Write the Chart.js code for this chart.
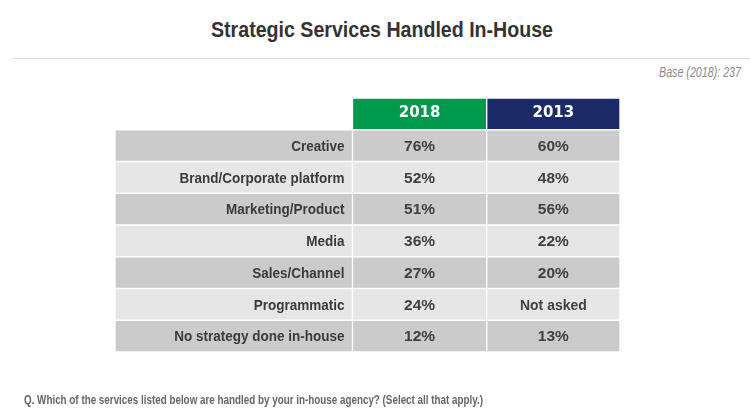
<!DOCTYPE html>
<html>
<head>
<meta charset="utf-8">
<script src="https://cdn.jsdelivr.net/npm/chart.js@4.4.1/dist/chart.umd.min.js"></script>
<style>
  html, body { margin: 0; padding: 0; background: #fff; }
  #wrap { position: relative; width: 750px; height: 411px; overflow: hidden; }
  .fit { position: absolute; white-space: nowrap; font-family: "Liberation Sans", Arial, sans-serif; }
  #title { top: 17px; font-size: 22px; font-weight: bold; color: #333; }
  #rule { position: absolute; left: 12px; top: 58px; width: 738px; height: 1px; background: #dcdcdc; }
  #base { top: 64px; font-size: 14.5px; font-style: italic; color: #8a8a8a; }
  #note { top: 392px; font-size: 13px; font-weight: bold; color: #666; }
  canvas { position: absolute; left: 0; top: 0; }
</style>
</head>
<body>
<div id="wrap">
  <div id="title" class="fit">Strategic Services Handled In-House</div>
  <div id="rule"></div>
  <div id="base" class="fit">Base (2018): 237</div>
  <canvas id="tbl" width="750" height="411"></canvas>
  <div id="note" class="fit">Q. Which of the services listed below are handled by your in-house agency? (Select all that apply.)</div>
</div>
<script>
// ── Data ─────────────────────────────────────────────────────
const services = ['Creative', 'Brand/Corporate platform', 'Marketing/Product', 'Media',
                  'Sales/Channel', 'Programmatic', 'No strategy done in-house'];
const years    = ['2018', '2013'];
const pct2018  = [76, 52, 51, 36, 27, 24, 12];
const pct2013  = [60, 48, 56, 22, 20, null, 13];
const notAsked = 'Not asked';

// ── Condensed look for the surrounding texts ─────────────────
// squeeze each line horizontally to the width it has in the original
function fitText(id, left, width, align) {
  const el = document.getElementById(id);
  const w = el.getBoundingClientRect().width;
  const x = align === 'center' ? left - width / 2 : align === 'right' ? left - width : left;
  el.style.left = x + 'px';
  el.style.transformOrigin = '0 0';
  el.style.transform = `scaleX(${width / w})`;
}
fitText('title', 382, 342, 'center');
fitText('base', 741, 82, 'right');
fitText('note', 24, 459, 'left');

// ── Layout (table columns on a pixel-like x scale) ───────────
const colEdges  = [0, 237.5, 371.7, 505];
const GREEN = '#009a4d', NAVY = '#1c2a69';
const DARK  = '#cbcbcb', LIGHT = '#e6e6e6';
const TEXT  = '#3a3a3a';
const SQUEEZE = 0.9;   // condensed row labels

const rowLabels = [''].concat(services);           // first row = header
const cell = k => rowLabels.map(() => [colEdges[k], colEdges[k + 1]]);
const rowBg = i => (i % 2 === 1 ? DARK : LIGHT);

const colText = [
  i => (i === 0 ? '' : services[i - 1]),
  i => (i === 0 ? years[0] : pct2018[i - 1] + '%'),
  i => (i === 0 ? years[1] : pct2013[i - 1] == null ? notAsked : pct2013[i - 1] + '%'),
];

// ── Cell text plugin ─────────────────────────────────────────
const cellText = {
  id: 'cellText',
  afterDatasetsDraw(chart) {
    const ctx = chart.ctx;
    ctx.save();
    ctx.textBaseline = 'middle';
    chart.data.datasets.forEach((ds, k) => {
      chart.getDatasetMeta(k).data.forEach((el, i) => {
        const txt = colText[k](i);
        if (!txt) return;
        const cx = (el.x + el.base) / 2;
        if (i === 0) {
          ctx.font = 'bold 15px "DejaVu Sans", sans-serif';
          ctx.fillStyle = '#fff';
          ctx.textAlign = 'center';
          ctx.fillText(txt, cx, el.y - 1);
        } else if (k === 0) {
          ctx.save();
          ctx.font = 'bold 15px "Liberation Sans", Arial, sans-serif';
          ctx.fillStyle = TEXT;
          ctx.textAlign = 'right';
          ctx.translate(Math.max(el.x, el.base) - 8, el.y + 1);
          ctx.scale(SQUEEZE, 1);
          ctx.fillText(txt, 0, 0);
          ctx.restore();
        } else {
          ctx.save();
          ctx.font = 'bold 15.5px "Liberation Sans", Arial, sans-serif';
          ctx.fillStyle = '#404040';
          ctx.textAlign = 'center';
          ctx.translate(cx, el.y + 1);
          if (txt === notAsked) ctx.scale(SQUEEZE, 1);
          ctx.fillText(txt, 0, 0);
          ctx.restore();
        }
      });
    });
    ctx.restore();
  }
};

const headerBg = [null, GREEN, NAVY];

new Chart(document.getElementById('tbl'), {
  type: 'bar',
  data: {
    labels: rowLabels,
    datasets: [0, 1, 2].map(k => ({
      label: k === 0 ? 'Service' : years[k - 1],
      data: cell(k),
      grouped: false,
      barPercentage: 1,
      categoryPercentage: 1,
      borderSkipped: false,
      borderColor: '#fff',
      borderWidth: c => (c.dataIndex === 0 && k === 0 ? 0 : 1),
      backgroundColor: c => (c.dataIndex === 0 ? (headerBg[k] || 'rgba(0,0,0,0)') : rowBg(c.dataIndex)),
    })),
  },
  options: {
    indexAxis: 'y',
    responsive: false,
    animation: false,
    layout: { padding: { left: 115, right: 130, top: 98, bottom: 59 } },
    plugins: { legend: { display: false }, tooltip: { enabled: false }, title: { display: false } },
    scales: {
      x: { type: 'linear', min: 0, max: colEdges[3], display: false },
      y: { type: 'category', display: false },
    },
  },
  plugins: [cellText],
});
</script>
</body>
</html>
